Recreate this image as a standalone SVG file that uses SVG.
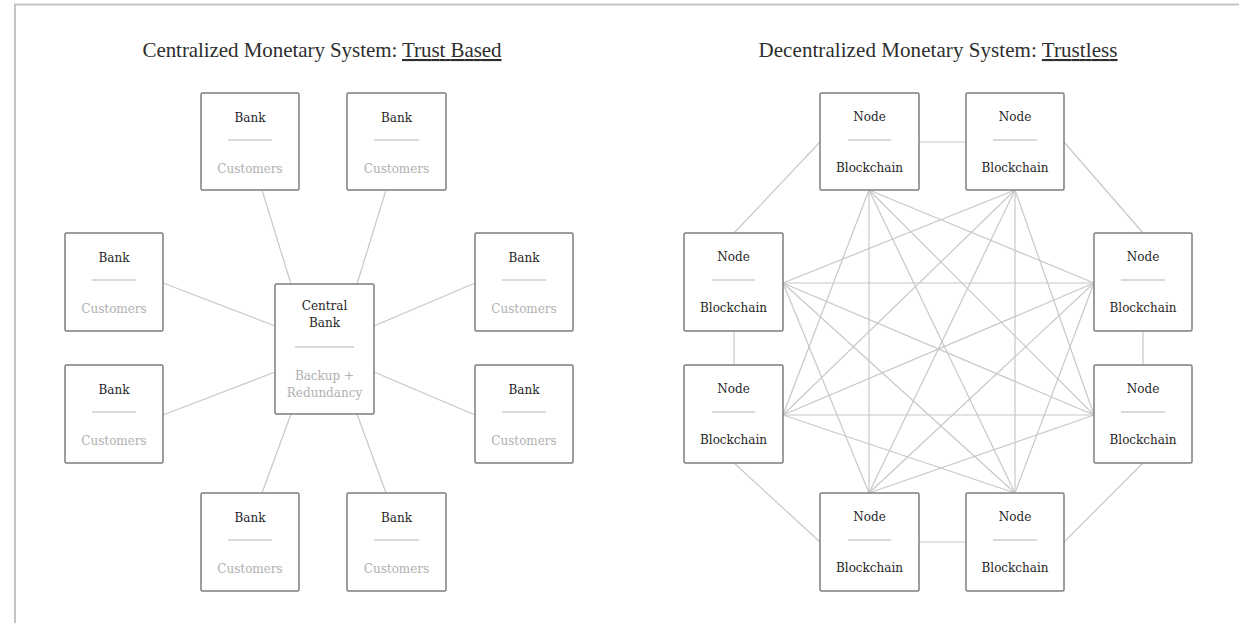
<svg xmlns="http://www.w3.org/2000/svg" width="1239" height="623" viewBox="0 0 1239 623">
<style>
.box{fill:#fff;stroke:#7d7d7d;stroke-width:1.5}
.sep{stroke:#b5b5b5;stroke-width:1.2}
.t{font-family:"DejaVu Serif","Liberation Serif",serif;font-size:12px;text-anchor:middle;fill:#262626}
.g{fill:#b0b0b0}
.title{font-family:"Liberation Serif","DejaVu Serif",serif;font-size:21px;text-anchor:middle;fill:#2e2e2e}
.c line{stroke:#c8c8c8;stroke-width:1.2}
</style>
<rect width="1239" height="623" fill="#fff"/>
<path d="M15,623 V4.5 H1239" fill="none" stroke="#c4c4c4" stroke-width="2"/>
<text class="title" x="322" y="57" textLength="359">Centralized Monetary System: <tspan text-decoration="underline">Trust Based</tspan></text>
<text class="title" x="938" y="57" textLength="359">Decentralized Monetary System: <tspan text-decoration="underline">Trustless</tspan></text>
<g class="c" id="connectors">
<line x1="262" y1="190" x2="291" y2="284"/>
<line x1="386" y1="190" x2="357" y2="284"/>
<line x1="163" y1="283" x2="275" y2="326"/>
<line x1="163" y1="415" x2="275" y2="372"/>
<line x1="475" y1="283" x2="374" y2="326"/>
<line x1="475" y1="415" x2="374" y2="372"/>
<line x1="262" y1="493" x2="291" y2="414"/>
<line x1="386" y1="493" x2="357" y2="414"/>
<line x1="820" y1="142" x2="734" y2="233"/>
<line x1="919" y1="142" x2="966" y2="142"/>
<line x1="1064" y1="142" x2="1143" y2="233"/>
<line x1="734" y1="331" x2="734" y2="365"/>
<line x1="1143" y1="331" x2="1143" y2="365"/>
<line x1="734" y1="463" x2="820" y2="542"/>
<line x1="919" y1="542" x2="966" y2="542"/>
<line x1="1064" y1="542" x2="1143" y2="463"/>
<line x1="869" y1="190" x2="1094" y2="283"/>
<line x1="869" y1="190" x2="1094" y2="415"/>
<line x1="869" y1="190" x2="1015" y2="493"/>
<line x1="869" y1="190" x2="869" y2="493"/>
<line x1="869" y1="190" x2="783" y2="415"/>
<line x1="1015" y1="190" x2="1094" y2="415"/>
<line x1="1015" y1="190" x2="1015" y2="493"/>
<line x1="1015" y1="190" x2="869" y2="493"/>
<line x1="1015" y1="190" x2="783" y2="415"/>
<line x1="1015" y1="190" x2="783" y2="283"/>
<line x1="1094" y1="283" x2="1015" y2="493"/>
<line x1="1094" y1="283" x2="869" y2="493"/>
<line x1="1094" y1="283" x2="783" y2="415"/>
<line x1="1094" y1="283" x2="783" y2="283"/>
<line x1="1094" y1="415" x2="869" y2="493"/>
<line x1="1094" y1="415" x2="783" y2="415"/>
<line x1="1094" y1="415" x2="783" y2="283"/>
<line x1="1015" y1="493" x2="783" y2="415"/>
<line x1="1015" y1="493" x2="783" y2="283"/>
<line x1="869" y1="493" x2="783" y2="283"/>
</g>
<g id="bank-tl"><rect class="box" x="201" y="93" width="98" height="97" rx="1.5"/><text class="t" x="250" y="122">Bank</text><line class="sep" x1="228" y1="140" x2="272" y2="140"/><text class="t g" x="250" y="173">Customers</text></g>
<g id="bank-tr"><rect class="box" x="347" y="93" width="99" height="97" rx="1.5"/><text class="t" x="396.5" y="122">Bank</text><line class="sep" x1="374" y1="140" x2="419" y2="140"/><text class="t g" x="396.5" y="173">Customers</text></g>
<g id="bank-l1"><rect class="box" x="65" y="233" width="98" height="98" rx="1.5"/><text class="t" x="114" y="262">Bank</text><line class="sep" x1="92" y1="280" x2="136" y2="280"/><text class="t g" x="114" y="313">Customers</text></g>
<g id="bank-l2"><rect class="box" x="65" y="365" width="98" height="98" rx="1.5"/><text class="t" x="114" y="394">Bank</text><line class="sep" x1="92" y1="412" x2="136" y2="412"/><text class="t g" x="114" y="445">Customers</text></g>
<g id="bank-r1"><rect class="box" x="475" y="233" width="98" height="98" rx="1.5"/><text class="t" x="524" y="262">Bank</text><line class="sep" x1="502" y1="280" x2="546" y2="280"/><text class="t g" x="524" y="313">Customers</text></g>
<g id="bank-r2"><rect class="box" x="475" y="365" width="98" height="98" rx="1.5"/><text class="t" x="524" y="394">Bank</text><line class="sep" x1="502" y1="412" x2="546" y2="412"/><text class="t g" x="524" y="445">Customers</text></g>
<g id="bank-bl"><rect class="box" x="201" y="493" width="98" height="98" rx="1.5"/><text class="t" x="250" y="522">Bank</text><line class="sep" x1="228" y1="540" x2="272" y2="540"/><text class="t g" x="250" y="573">Customers</text></g>
<g id="bank-br"><rect class="box" x="347" y="493" width="99" height="98" rx="1.5"/><text class="t" x="396.5" y="522">Bank</text><line class="sep" x1="374" y1="540" x2="419" y2="540"/><text class="t g" x="396.5" y="573">Customers</text></g>
<g id="central-bank"><rect class="box" x="275" y="284" width="99" height="130" rx="1.5"/><text class="t" x="324.5" y="310">Central</text><text class="t" x="324.5" y="327">Bank</text><line class="sep" x1="295" y1="347" x2="354" y2="347"/><text class="t g" x="324.5" y="380">Backup +</text><text class="t g" x="324.5" y="397">Redundancy</text></g>
<g id="node-t1"><rect class="box" x="820" y="93" width="99" height="97" rx="1.5"/><text class="t" x="869.5" y="121">Node</text><line class="sep" x1="848" y1="140" x2="891" y2="140"/><text class="t" x="869.5" y="172">Blockchain</text></g>
<g id="node-t2"><rect class="box" x="966" y="93" width="98" height="97" rx="1.5"/><text class="t" x="1015" y="121">Node</text><line class="sep" x1="993" y1="140" x2="1037" y2="140"/><text class="t" x="1015" y="172">Blockchain</text></g>
<g id="node-l1"><rect class="box" x="684" y="233" width="99" height="98" rx="1.5"/><text class="t" x="733.5" y="261">Node</text><line class="sep" x1="712" y1="280" x2="755" y2="280"/><text class="t" x="733.5" y="312">Blockchain</text></g>
<g id="node-l2"><rect class="box" x="684" y="365" width="99" height="98" rx="1.5"/><text class="t" x="733.5" y="393">Node</text><line class="sep" x1="712" y1="412" x2="755" y2="412"/><text class="t" x="733.5" y="444">Blockchain</text></g>
<g id="node-r1"><rect class="box" x="1094" y="233" width="98" height="98" rx="1.5"/><text class="t" x="1143" y="261">Node</text><line class="sep" x1="1121" y1="280" x2="1165" y2="280"/><text class="t" x="1143" y="312">Blockchain</text></g>
<g id="node-r2"><rect class="box" x="1094" y="365" width="98" height="98" rx="1.5"/><text class="t" x="1143" y="393">Node</text><line class="sep" x1="1121" y1="412" x2="1165" y2="412"/><text class="t" x="1143" y="444">Blockchain</text></g>
<g id="node-b1"><rect class="box" x="820" y="493" width="99" height="98" rx="1.5"/><text class="t" x="869.5" y="521">Node</text><line class="sep" x1="848" y1="540" x2="891" y2="540"/><text class="t" x="869.5" y="572">Blockchain</text></g>
<g id="node-b2"><rect class="box" x="966" y="493" width="98" height="98" rx="1.5"/><text class="t" x="1015" y="521">Node</text><line class="sep" x1="993" y1="540" x2="1037" y2="540"/><text class="t" x="1015" y="572">Blockchain</text></g>
</svg>
